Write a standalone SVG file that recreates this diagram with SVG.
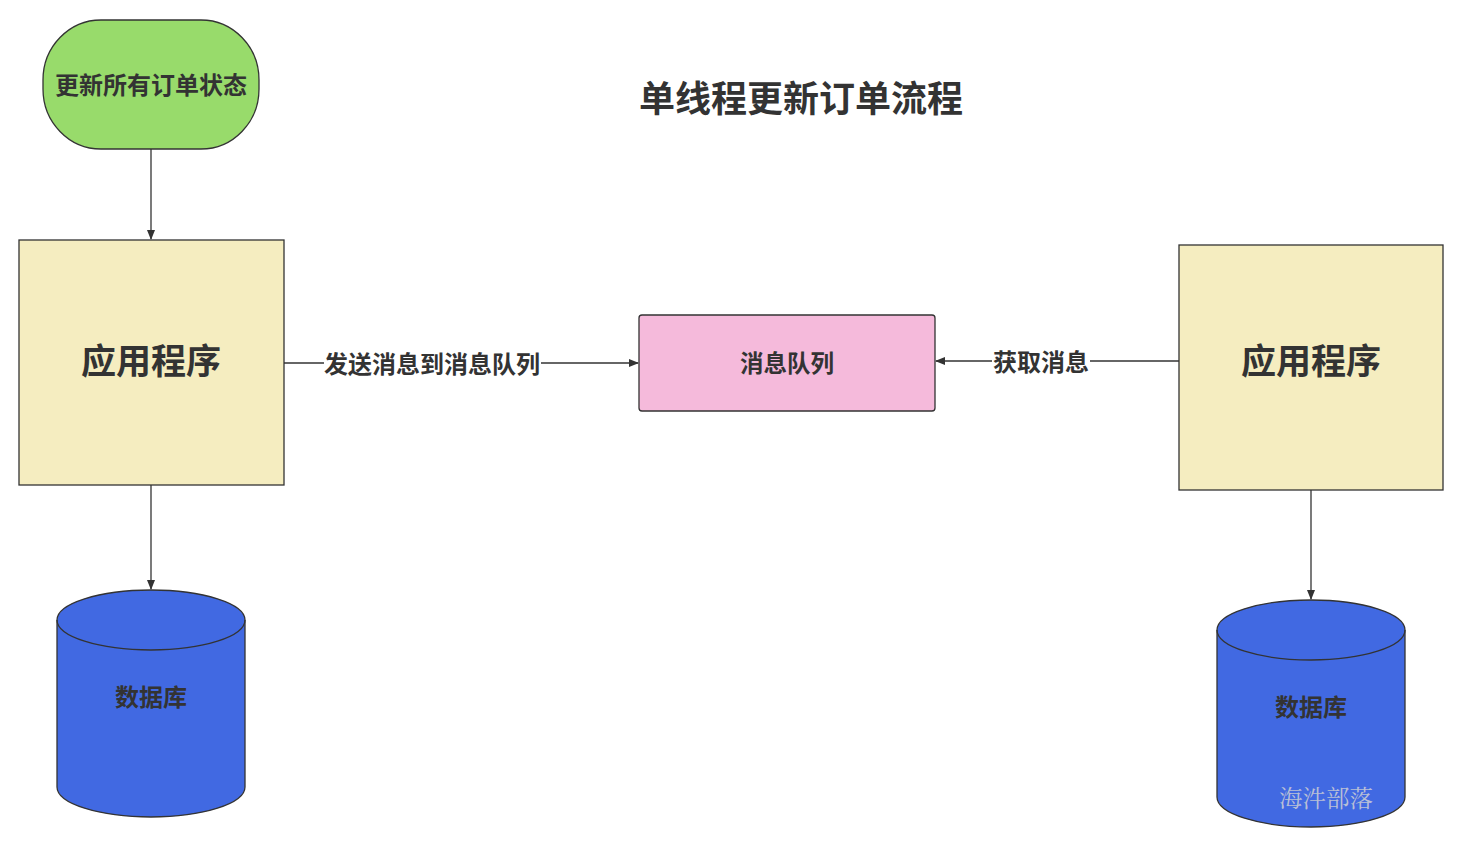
<svg xmlns="http://www.w3.org/2000/svg" width="1473" height="846" viewBox="0 0 1473 846">
<style>
.t{font-family:"Noto Sans CJK SC","Noto Sans",sans-serif;font-weight:bold;fill:#333;text-anchor:middle;dominant-baseline:central}
.e{stroke:#333;stroke-width:1.3;fill:none}
.n{stroke:#333;stroke-width:1.3}
.db{fill:#4169E2;stroke:#333;stroke-width:1.3}
</style>
<defs>
<marker id="a" markerWidth="10" markerHeight="10" refX="9" refY="5" orient="auto" markerUnits="userSpaceOnUse">
<path d="M0,1 L10,5 L0,9 Z" fill="#333"/>
</marker>
</defs>
<rect width="1473" height="846" fill="#fff"/>
<text class="t" x="801" y="96" font-size="36">单线程更新订单流程</text>
<g id="connectors">
<path class="e" d="M151,149 V239" marker-end="url(#a)"/>
<path class="e" d="M151,485 V589" marker-end="url(#a)"/>
<path class="e" d="M284,363 H638" marker-end="url(#a)"/>
<path class="e" d="M1179,361 H936" marker-end="url(#a)"/>
<path class="e" d="M1311,490 V599" marker-end="url(#a)"/>
<rect x="324" y="348" width="217" height="32" fill="#fff"/>
<text class="t" x="432" y="362" font-size="24">发送消息到消息队列</text>
<rect x="992" y="346" width="98" height="32" fill="#fff"/>
<text class="t" x="1041" y="360" font-size="24">获取消息</text>
</g>
<g id="start">
<rect class="n" x="43" y="20" width="216" height="129" rx="58" ry="60" fill="#98DB6B"/>
<text class="t" x="151" y="83" font-size="24">更新所有订单状态</text>
</g>
<g id="app1">
<rect class="n" x="19" y="240" width="265" height="245" fill="#F5EDC0"/>
<text class="t" x="151" y="358" font-size="35">应用程序</text>
</g>
<g id="mq">
<rect class="n" x="639" y="315" width="296" height="96" rx="3" fill="#F5BADB"/>
<text class="t" x="787" y="362" font-size="23.5">消息队列</text>
</g>
<g id="app2">
<rect class="n" x="1179" y="245" width="264" height="245" fill="#F5EDC0"/>
<text class="t" x="1311" y="358" font-size="35">应用程序</text>
</g>
<g id="db1">
<path class="db" d="M57,620 A94,30 0 0 1 245,620 V787 A94,30 0 0 1 57,787 Z"/>
<path class="e" d="M57,620 A94,30 0 0 0 245,620"/>
<text class="t" x="151" y="695" font-size="24">数据库</text>
</g>
<g id="db2">
<path class="db" d="M1217,630 A94,30 0 0 1 1405,630 V797 A94,30 0 0 1 1217,797 Z"/>
<path class="e" d="M1217,630 A94,30 0 0 0 1405,630"/>
<text class="t" x="1311" y="705" font-size="24">数据库</text>
<text x="1326" y="797" font-size="23.5" fill="#B8BFD6" text-anchor="middle" dominant-baseline="central" font-family="'Noto Serif CJK SC','Noto Sans CJK SC',serif">海汼部落</text>
</g>
</svg>
